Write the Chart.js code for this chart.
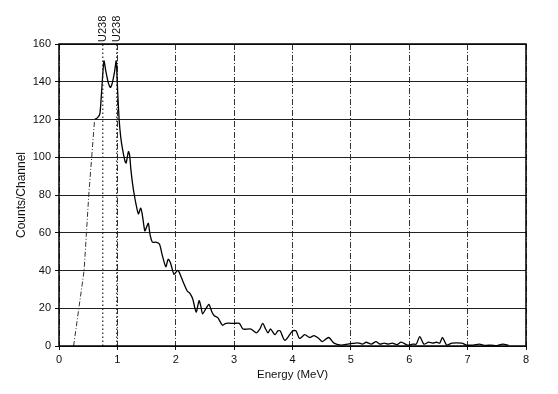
<!DOCTYPE html>
<html>
<head>
<meta charset="utf-8">
<script src="https://cdn.jsdelivr.net/npm/chart.js@4/dist/chart.umd.min.js"></script>
<style>
html,body{margin:0;padding:0;background:#fff;}
#wrap{width:558px;height:394px;position:relative;}
</style>
</head>
<body>
<div id="wrap"><canvas id="c"></canvas></div>
<script>
// Energy (MeV) / counts per channel
const riseEnergy = [0.25, 0.34, 0.43, 0.47, 0.51, 0.56, 0.61];
const riseCounts = [0, 20, 40, 60, 80, 100, 120];

const spectrumEnergy = [0.61,0.66,0.70,0.73,0.77,0.80,0.84,0.88,0.91,0.95,0.98,1.00,1.03,1.06,1.09,1.13,1.15,1.19,1.21,1.23,1.26,1.29,1.32,1.36,1.40,1.43,1.47,1.50,1.53,1.56,1.60,1.66,1.72,1.77,1.83,1.87,1.91,1.97,2.03,2.06,2.10,2.14,2.20,2.24,2.29,2.35,2.40,2.43,2.46,2.52,2.57,2.62,2.66,2.72,2.80,2.86,3.00,3.09,3.15,3.29,3.38,3.44,3.49,3.54,3.58,3.62,3.65,3.70,3.75,3.79,3.83,3.87,3.93,4.00,4.06,4.12,4.21,4.29,4.37,4.45,4.51,4.62,4.71,4.83,4.95,5.12,5.20,5.26,5.35,5.43,5.50,5.57,5.64,5.71,5.79,5.86,5.97,6.06,6.12,6.18,6.25,6.33,6.40,6.47,6.52,6.57,6.64,6.73,6.90,6.98,7.10,7.20,7.30,7.40,7.50,7.60,7.70];
const spectrumCounts = [120,121,123,135,151,146,140,137,139,145,151,138,120,110,104,98,97,103,101,94,86,80,75,70,73,69,61,63,65,59,55,55,54,48,42,46,44,38,40,39,36,33,29,28,25,18,24,21,17,20,22,18,16,15,11,12,12,12,9,9,7,9,12,9,7,9,8,6,8,8,5,3,5,8,8,4,6,4.5,5.5,4,2.3,4.5,1.5,0.5,1,1.7,1,2,1,2.3,1,1.5,1,1.5,0.7,2,0.5,1,1,5,1,2,1.5,2,1.5,4.5,0.5,1.5,1.5,0.5,0.5,1,0.3,0.5,0.2,1,0.3];

const markerEnergy = [0.75, 0.99];
const markerLabels = ["U238", "U238"];
const markerRange = [0, 160];

const xTicks = [0,1,2,3,4,5,6,7,8];
const yTicks = [0,20,40,60,80,100,120,140,160];

const pts = (xs, ys) => xs.map((x, i) => ({x: x, y: ys[i]}));

const markerSets = markerEnergy.map(e => ({
  data: [{x: e, y: markerRange[0]}, {x: e, y: markerRange[1]}],
  showLine: true, borderColor: '#222', borderWidth: 1.2, borderDash: [1.5, 2.5],
  pointRadius: 0, fill: false
}));

const F = 'Liberation Sans, Arial, sans-serif';

const framePlugin = {
  id: 'frame',
  afterDatasetsDraw(chart) {
    const {ctx, chartArea: a, scales} = chart;
    ctx.save();
    ctx.strokeStyle = '#000';
    ctx.lineWidth = 1.5;
    ctx.strokeRect(a.left, a.top, a.right - a.left, a.bottom - a.top);
    ctx.fillStyle = '#111';
    ctx.font = '11px ' + F;
    ctx.textAlign = 'left';
    ctx.textBaseline = 'middle';
    markerEnergy.forEach((e, i) => {
      const px = scales.x.getPixelForValue(e);
      ctx.save();
      ctx.translate(px, a.top - 2);
      ctx.rotate(-Math.PI / 2);
      ctx.fillText(markerLabels[i], 0, 0);
      ctx.restore();
    });
    ctx.restore();
  }
};

new Chart(document.getElementById('c'), {
  type: 'scatter',
  data: {
    datasets: [
      ...markerSets,
      {
        data: pts(riseEnergy, riseCounts),
        showLine: true, borderColor: '#333', borderWidth: 1, borderDash: [5, 2, 1, 2],
        pointRadius: 0, fill: false, tension: 0
      },
      {
        data: pts(spectrumEnergy, spectrumCounts),
        showLine: true, borderColor: '#000', borderWidth: 1.3,
        pointRadius: 0, fill: false, tension: 0.25
      }
    ]
  },
  options: {
    responsive: true,
    maintainAspectRatio: false,
    animation: false,
    devicePixelRatio: 1,
    layout: {padding: {left: 12, right: 32, top: 44, bottom: 8}},
    plugins: {legend: {display: false}, tooltip: {enabled: false}},
    scales: {
      x: {
        type: 'linear', min: 0, max: 8,
        afterBuildTicks: s => { s.ticks = xTicks.map(v => ({value: v})); },
        afterFit: s => { s.height = 40; },
        ticks: {color: '#111', font: {family: F, size: 11}, padding: 3, maxRotation: 0},
        grid: {color: '#333', lineWidth: 1, tickLength: 4, tickColor: '#111'},
        border: {display: false, dash: [6, 2, 1, 2]},
        title: {display: true, text: 'Energy (MeV)', color: '#111', font: {family: F, size: 11.5}, padding: {top: 2, bottom: 4}}
      },
      y: {
        type: 'linear', min: 0, max: 160,
        afterBuildTicks: s => { s.ticks = yTicks.map(v => ({value: v})); },
        afterFit: s => { s.width = 47; },
        ticks: {color: '#111', font: {family: F, size: 11}, padding: 4},
        grid: {color: '#222', lineWidth: 1, tickLength: 4, tickColor: '#111'},
        border: {display: false},
        title: {display: true, text: 'Counts/Channel', color: '#111', font: {family: F, size: 12}, padding: {top: 2, bottom: 2}}
      }
    }
  },
  plugins: [framePlugin]
});
</script>
</body>
</html>
